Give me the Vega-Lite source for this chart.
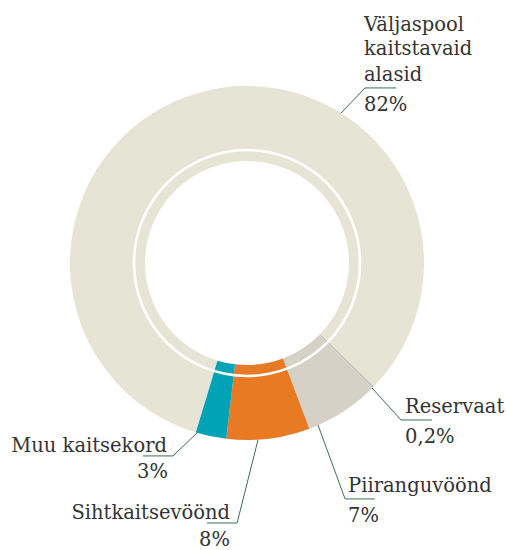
{
  "$schema": "https://vega.github.io/schema/vega-lite/v6.json",
  "width": 494,
  "height": 526,
  "autosize": {"type": "none"},
  "padding": {"left": 0, "top": 0, "right": 12, "bottom": 24},
  "background": "white",
  "config": {"view": {"stroke": null}},
  "datasets": {
    "slices": [
      {"kategooria": "Väljaspool kaitstavaid alasid", "osakaal": 82.6, "jrk": 1},
      {"kategooria": "Reservaat", "osakaal": 0.2, "jrk": 2},
      {"kategooria": "Piiranguvöönd", "osakaal": 6.8, "jrk": 3},
      {"kategooria": "Sihtkaitsevöönd", "osakaal": 7.6, "jrk": 4},
      {"kategooria": "Muu kaitsekord", "osakaal": 2.8, "jrk": 5}
    ],
    "leaders": [
      {"silt": "Väljaspool", "p": 1, "x": 53.1, "y": 84.7},
      {"silt": "Väljaspool", "p": 2, "x": 66.7, "y": 98.9},
      {"silt": "Väljaspool", "p": 3, "x": 84.2, "y": 98.9},
      {"silt": "Reservaat", "p": 1, "x": 70.6, "y": -70.6},
      {"silt": "Reservaat", "p": 2, "x": 87.0, "y": -88.7},
      {"silt": "Reservaat", "p": 3, "x": 104.5, "y": -88.7},
      {"silt": "Piiranguvöönd", "p": 1, "x": 40.1, "y": -91.5},
      {"silt": "Piiranguvöönd", "p": 2, "x": 55.4, "y": -133.3},
      {"silt": "Piiranguvöönd", "p": 3, "x": 72.3, "y": -133.3},
      {"silt": "Sihtkaitsevöönd", "p": 1, "x": 6.2, "y": -100},
      {"silt": "Sihtkaitsevöönd", "p": 2, "x": -5.6, "y": -146.9},
      {"silt": "Sihtkaitsevöönd", "p": 3, "x": -22.6, "y": -146.9},
      {"silt": "Muu kaitsekord", "p": 1, "x": -28.2, "y": -96.0},
      {"silt": "Muu kaitsekord", "p": 2, "x": -41.8, "y": -109.0},
      {"silt": "Muu kaitsekord", "p": 3, "x": -58.8, "y": -109.0}
    ],
    "labels": [
      {"tekst": "Väljaspool", "pool": "vasak", "x": 66.1, "y": 131.2},
      {"tekst": "kaitstavaid", "pool": "vasak", "x": 66.1, "y": 117.5},
      {"tekst": "alasid", "pool": "vasak", "x": 66.1, "y": 102.8},
      {"tekst": "82%", "pool": "vasak", "x": 66.1, "y": 86.0},
      {"tekst": "Reservaat", "pool": "vasak", "x": 89.3, "y": -84.7},
      {"tekst": "0,2%", "pool": "vasak", "x": 89.3, "y": -101.7},
      {"tekst": "Piiranguvöönd", "pool": "vasak", "x": 57.1, "y": -129.4},
      {"tekst": "7%", "pool": "vasak", "x": 57.1, "y": -146.3},
      {"tekst": "Sihtkaitsevöönd", "pool": "parem", "x": -9.6, "y": -144.6},
      {"tekst": "8%", "pool": "parem", "x": -9.6, "y": -159.9},
      {"tekst": "Muu kaitsekord", "pool": "parem", "x": -45.2, "y": -106.8},
      {"tekst": "3%", "pool": "parem", "x": -44.6, "y": -121.5}
    ]
  },
  "layer": [
    {
      "data": {"name": "slices"},
      "mark": {"type": "arc", "radius": 177, "radius2": 102},
      "encoding": {
        "theta": {"field": "osakaal", "type": "quantitative", "stack": true, "scale": {"range": [3.435, 9.7182]}},
        "color": {
          "field": "kategooria",
          "type": "nominal",
          "legend": null,
          "scale": {
            "domain": ["Väljaspool kaitstavaid alasid", "Reservaat", "Piiranguvöönd", "Sihtkaitsevöönd", "Muu kaitsekord"],
            "range": ["#e6e4d4", "#cbc6ba", "#d5d1c6", "#e87a24", "#00a3b6"]
          }
        },
        "order": {"field": "jrk", "type": "quantitative"}
      }
    },
    {
      "data": {"values": [{"ring": 1}]},
      "mark": {"type": "arc", "radius": 114.3, "radius2": 111.7, "theta": 0, "theta2": 6.2832, "color": "white", "fill": "white"},
      "encoding": {}
    },
    {
      "data": {"name": "leaders"},
      "mark": {"type": "line", "stroke": "#3f6e55", "strokeWidth": 1},
      "encoding": {
        "x": {"field": "x", "type": "quantitative", "scale": {"domain": [-139.55, 139.55], "nice": false, "zero": false}, "axis": null},
        "y": {"field": "y", "type": "quantitative", "scale": {"domain": [-148.59, 148.59], "nice": false, "zero": false}, "axis": null},
        "detail": {"field": "silt"},
        "order": {"field": "p", "type": "quantitative"}
      }
    },
    {
      "data": {"name": "labels"},
      "transform": [{"filter": "datum.pool === 'vasak'"}],
      "mark": {"type": "text", "align": "left", "baseline": "alphabetic", "font": "DejaVu Serif", "fontSize": 19.5, "color": "#333333"},
      "encoding": {
        "x": {"field": "x", "type": "quantitative"},
        "y": {"field": "y", "type": "quantitative"},
        "text": {"field": "tekst"}
      }
    },
    {
      "data": {"name": "labels"},
      "transform": [{"filter": "datum.pool === 'parem'"}],
      "mark": {"type": "text", "align": "right", "baseline": "alphabetic", "font": "DejaVu Serif", "fontSize": 19.5, "color": "#333333"},
      "encoding": {
        "x": {"field": "x", "type": "quantitative"},
        "y": {"field": "y", "type": "quantitative"},
        "text": {"field": "tekst"}
      }
    }
  ]
}
